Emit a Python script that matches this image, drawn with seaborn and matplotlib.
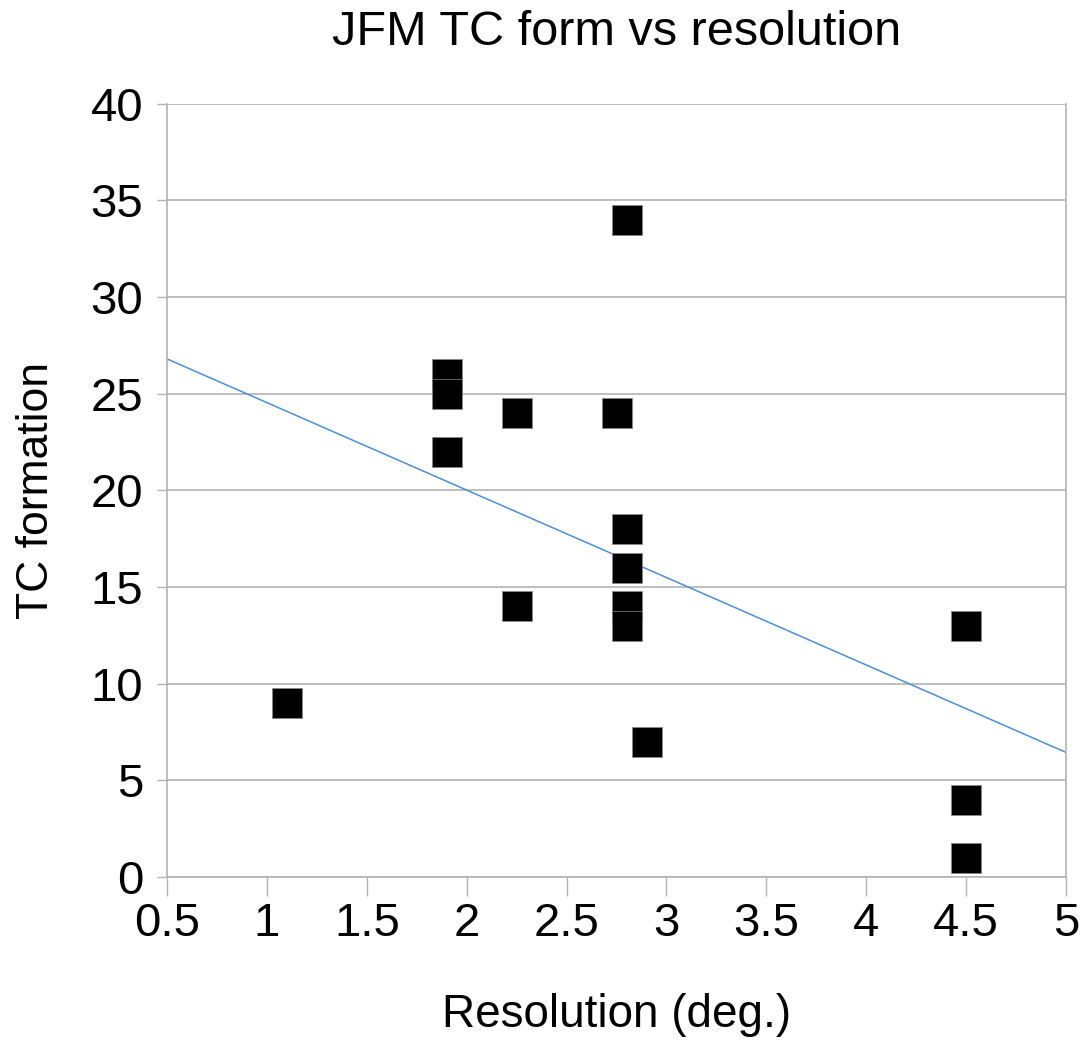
import numpy as np
import pandas as pd
import matplotlib
matplotlib.use("Agg")
import matplotlib.pyplot as plt
import seaborn as sns

# values
resolution = [1.1, 1.9, 1.9, 1.9, 2.25, 2.25, 2.75, 2.8, 2.8, 2.8, 2.8, 2.8, 2.9, 4.5, 4.5, 4.5]
tc_formation = [9, 26, 25, 22, 24, 14, 24, 34, 18, 16, 14, 13, 7, 13, 4, 1]
x_ticks = [0.5, 1, 1.5, 2, 2.5, 3, 3.5, 4, 4.5, 5]
y_ticks = [0, 5, 10, 15, 20, 25, 30, 35, 40]

df = pd.DataFrame({"res": resolution, "tc": tc_formation})

sns.set_style("white")
plt.rcParams["font.family"] = ["Liberation Sans", "DejaVu Sans"]
plt.rcParams["text.color"] = "black"
plt.rcParams["xtick.bottom"] = True
plt.rcParams["ytick.left"] = True

fig = plt.figure(figsize=(10.85, 10.43), dpi=100)
ax = fig.add_axes([0.154, 0.159, 0.8285, 0.7415])

ax.set_xlim(0.5, 5)
ax.set_ylim(0, 40)

# linear trend over the full x range
sns.regplot(data=df, x="res", y="tc", scatter=False, ci=None, truncate=False,
            line_kws={"color": "#4a90d9", "lw": 1.1}, ax=ax)
sns.scatterplot(data=df, x="res", y="tc", marker="s", s=450, color="black",
                edgecolor="#888888", linewidth=0.5, zorder=3, ax=ax)

ax.set_xlim(0.5, 5)
ax.set_ylim(0, 40)
ax.set_xticks(x_ticks)
ax.set_xticklabels([f"{t:g}" for t in x_ticks])
ax.set_yticks(y_ticks)

ax.yaxis.grid(True, color="#b3b3b3", lw=1.2)
ax.set_axisbelow(True)
for side in ["left", "right", "bottom"]:
    ax.spines[side].set_color("#b3b3b3")
    ax.spines[side].set_linewidth(1.2)
ax.spines["top"].set_visible(False)

ax.tick_params(axis="x", direction="out", length=14, width=1, color="#b3b3b3",
               labelsize=34, labelcolor="black", pad=4)
ax.tick_params(axis="y", direction="out", length=7, width=1, color="#b3b3b3",
               labelsize=34, labelcolor="black", pad=10)

ax.set_title("JFM TC form vs resolution", fontsize=35, pad=42, color="black")
ax.set_xlabel("Resolution (deg.)", fontsize=33, labelpad=34, color="black")
ax.set_ylabel("TC formation", fontsize=32, labelpad=24, color="black")

fig.savefig("out.png", dpi=100)
